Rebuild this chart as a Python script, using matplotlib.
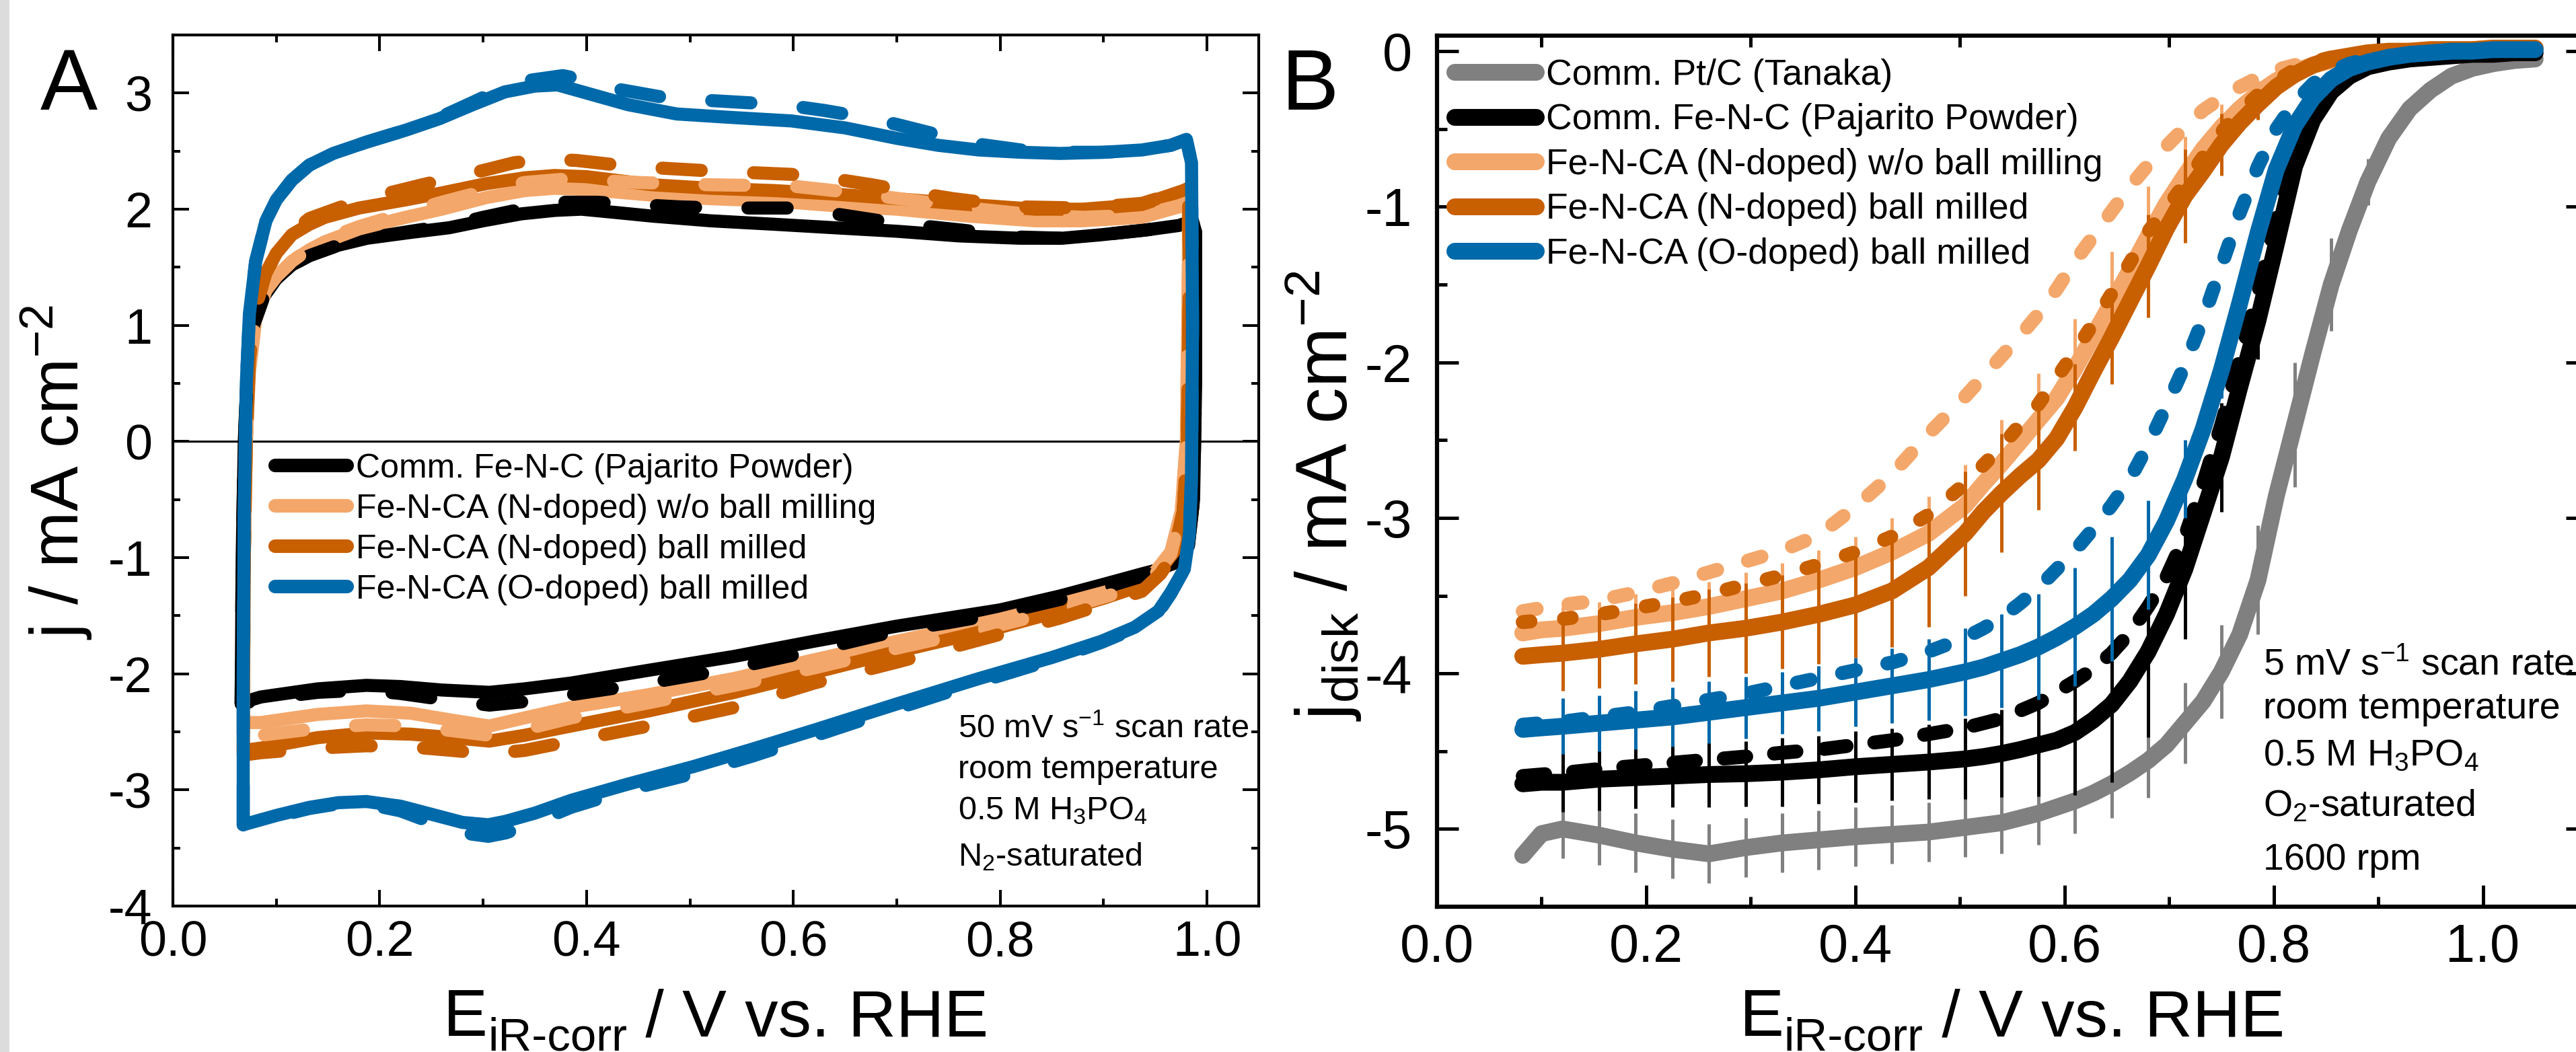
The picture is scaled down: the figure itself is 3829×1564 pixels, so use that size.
import numpy as np
import matplotlib
matplotlib.use('Agg')
import matplotlib.pyplot as plt
from matplotlib.lines import Line2D
from matplotlib.patches import Rectangle
from matplotlib.ticker import FormatStrFormatter, NullLocator

plt.rcParams['font.family'] = ['Liberation Sans', 'DejaVu Sans']
plt.rcParams['mathtext.fontset'] = 'custom'
plt.rcParams['mathtext.rm'] = 'Liberation Sans'
plt.rcParams['mathtext.it'] = 'Liberation Sans:italic'
plt.rcParams['mathtext.bf'] = 'Liberation Sans:bold'
plt.rcParams['mathtext.default'] = 'regular'
plt.rcParams['axes.unicode_minus'] = False

# ================= labels =================
LABELS_A = ['Comm. Fe-N-C (Pajarito Powder)',
            'Fe-N-CA (N-doped) w/o ball milling',
            'Fe-N-CA (N-doped) ball milled',
            'Fe-N-CA (O-doped) ball milled']
LABELS_B = ['Comm. Pt/C (Tanaka)'] + LABELS_A

NOTE_A = ['50 mV s$^{-1}$ scan rate', 'room temperature',
          '0.5 M H$_3$PO$_4$', 'N$_2$-saturated']
NOTE_B = ['5 mV s$^{-1}$ scan rate', 'room temperature',
          '0.5 M H$_3$PO$_4$', 'O$_2$-saturated', '1600 rpm']

# ================= panel A: CV loops (E / V, j / mA cm-2) =================
A_BLACK_SOLID = [
    (0.066, -2.25), (0.067, -1.00), (0.069, 0.00), (0.072, 0.60), (0.078, 1.00), (0.088, 1.25),
    (0.100, 1.40), (0.115, 1.52), (0.132, 1.60), (0.160, 1.69), (0.188, 1.75), (0.230, 1.80),
    (0.267, 1.84), (0.300, 1.90), (0.337, 1.96), (0.370, 1.99), (0.395, 2.00), (0.430, 1.97),
    (0.464, 1.94), (0.520, 1.90), (0.582, 1.87), (0.640, 1.84), (0.700, 1.81), (0.760, 1.77),
    (0.819, 1.75), (0.860, 1.75), (0.898, 1.78), (0.940, 1.82), (0.973, 1.86), (0.986, 1.90),
    (0.989, 1.80), (0.989, 0.50), (0.987, -0.50), (0.982, -0.90), (0.968, -1.05), (0.950, -1.11),
    (0.937, -1.14), (0.900, -1.23), (0.858, -1.33), (0.800, -1.45), (0.750, -1.52), (0.700, -1.59),
    (0.620, -1.72), (0.543, -1.85), (0.460, -1.97), (0.385, -2.08), (0.340, -2.13), (0.306, -2.16),
    (0.260, -2.14), (0.220, -2.11), (0.187, -2.10), (0.140, -2.13), (0.085, -2.20), (0.066, -2.25)]
A_BLACK_DASH = [
    (0.066, -2.25), (0.067, -1.00), (0.069, 0.00), (0.072, 0.60), (0.078, 1.00), (0.088, 1.25),
    (0.100, 1.40), (0.115, 1.52), (0.132, 1.60), (0.160, 1.69), (0.188, 1.75), (0.230, 1.81),
    (0.267, 1.86), (0.300, 1.93), (0.337, 2.00), (0.377, 2.06), (0.410, 2.06), (0.448, 2.04),
    (0.490, 2.02), (0.527, 2.01), (0.598, 2.01), (0.640, 1.96), (0.684, 1.90), (0.720, 1.86),
    (0.763, 1.82), (0.819, 1.76), (0.860, 1.75), (0.898, 1.78), (0.940, 1.82), (0.973, 1.86),
    (0.986, 1.90), (0.989, 1.80), (0.989, 0.50), (0.987, -0.50), (0.982, -0.90), (0.968, -1.06),
    (0.950, -1.13), (0.937, -1.16), (0.900, -1.26), (0.858, -1.36), (0.800, -1.48), (0.750, -1.56),
    (0.700, -1.63), (0.620, -1.80), (0.543, -1.95), (0.460, -2.08), (0.385, -2.18), (0.340, -2.24),
    (0.306, -2.27), (0.260, -2.22), (0.220, -2.17), (0.187, -2.14), (0.140, -2.16), (0.085, -2.22),
    (0.066, -2.26)]
A_LIGHT_SOLID = [
    (0.068, -2.42), (0.069, -1.00), (0.071, 0.00), (0.074, 0.60), (0.080, 1.05), (0.090, 1.30),
    (0.100, 1.42), (0.115, 1.55), (0.132, 1.65), (0.147, 1.72), (0.180, 1.83), (0.225, 1.93),
    (0.260, 2.00), (0.303, 2.10), (0.340, 2.16), (0.369, 2.18), (0.400, 2.17), (0.464, 2.12),
    (0.520, 2.09), (0.582, 2.07), (0.640, 2.03), (0.700, 2.00), (0.770, 1.94), (0.834, 1.90),
    (0.880, 1.90), (0.937, 1.93), (0.973, 2.02), (0.982, 2.05), (0.982, 1.50), (0.980, 0.00),
    (0.975, -0.60), (0.965, -0.95), (0.950, -1.12), (0.937, -1.21), (0.900, -1.30), (0.858, -1.40),
    (0.800, -1.53), (0.700, -1.72), (0.620, -1.88), (0.543, -2.04), (0.460, -2.18), (0.385, -2.29),
    (0.340, -2.38), (0.306, -2.45), (0.270, -2.40), (0.230, -2.34), (0.187, -2.32), (0.140, -2.35),
    (0.085, -2.42), (0.068, -2.42)]
A_LIGHT_DASH = [
    (0.068, -2.54), (0.069, -1.00), (0.071, 0.00), (0.074, 0.60), (0.080, 1.05), (0.090, 1.30),
    (0.100, 1.42), (0.115, 1.55), (0.132, 1.66), (0.147, 1.74), (0.180, 1.85), (0.225, 1.97),
    (0.260, 2.06), (0.303, 2.16), (0.340, 2.23), (0.380, 2.26), (0.450, 2.23), (0.520, 2.21),
    (0.598, 2.20), (0.660, 2.14), (0.720, 2.07), (0.780, 2.00), (0.834, 1.95), (0.880, 1.93),
    (0.937, 1.95), (0.973, 2.03), (0.982, 2.06), (0.982, 1.50), (0.980, 0.00), (0.975, -0.60),
    (0.965, -0.97), (0.950, -1.14), (0.937, -1.24), (0.900, -1.34), (0.858, -1.45), (0.800, -1.58),
    (0.700, -1.78), (0.620, -1.95), (0.543, -2.10), (0.460, -2.25), (0.385, -2.38), (0.340, -2.48),
    (0.306, -2.53), (0.270, -2.49), (0.230, -2.45), (0.187, -2.44), (0.140, -2.47), (0.085, -2.53),
    (0.068, -2.54)]
A_DARK_SOLID = [
    (0.068, -2.66), (0.069, -1.00), (0.071, 0.00), (0.074, 0.70), (0.080, 1.15), (0.090, 1.45),
    (0.100, 1.62), (0.115, 1.78), (0.132, 1.87), (0.147, 1.93), (0.180, 2.01), (0.225, 2.08),
    (0.260, 2.14), (0.303, 2.22), (0.340, 2.27), (0.369, 2.29), (0.400, 2.28), (0.464, 2.21),
    (0.520, 2.18), (0.582, 2.16), (0.640, 2.13), (0.700, 2.09), (0.770, 2.04), (0.834, 2.00),
    (0.880, 2.00), (0.937, 2.04), (0.977, 2.16), (0.982, 2.18), (0.983, 1.50), (0.981, 0.00),
    (0.977, -0.60), (0.968, -0.95), (0.955, -1.10), (0.937, -1.24), (0.900, -1.35), (0.858, -1.46),
    (0.800, -1.60), (0.700, -1.81), (0.620, -1.99), (0.543, -2.16), (0.460, -2.32), (0.385, -2.45),
    (0.340, -2.53), (0.306, -2.58), (0.270, -2.55), (0.230, -2.52), (0.187, -2.51), (0.140, -2.55),
    (0.085, -2.64), (0.068, -2.66)]
A_DARK_DASH = [
    (0.068, -2.70), (0.069, -1.00), (0.071, 0.00), (0.074, 0.70), (0.080, 1.15), (0.090, 1.45),
    (0.100, 1.62), (0.115, 1.80), (0.132, 1.92), (0.163, 2.02), (0.200, 2.12), (0.241, 2.21),
    (0.270, 2.27), (0.303, 2.34), (0.330, 2.40), (0.358, 2.43), (0.390, 2.42), (0.440, 2.37),
    (0.519, 2.33), (0.598, 2.30), (0.640, 2.26), (0.676, 2.21), (0.720, 2.14), (0.755, 2.09),
    (0.819, 2.02), (0.880, 2.01), (0.937, 2.05), (0.977, 2.16), (0.982, 2.18), (0.983, 1.50),
    (0.981, 0.00), (0.977, -0.60), (0.968, -0.97), (0.955, -1.14), (0.937, -1.29), (0.900, -1.40),
    (0.858, -1.52), (0.800, -1.66), (0.700, -1.90), (0.620, -2.08), (0.543, -2.29), (0.460, -2.45),
    (0.385, -2.58), (0.340, -2.66), (0.306, -2.69), (0.270, -2.66), (0.230, -2.63), (0.187, -2.62),
    (0.140, -2.64), (0.085, -2.68), (0.068, -2.70)]
A_BLUE_SOLID = [
    (0.068, -3.30), (0.068, -2.00), (0.069, -0.50), (0.071, 0.50), (0.074, 1.10), (0.080, 1.55),
    (0.090, 1.90), (0.100, 2.08), (0.115, 2.25), (0.132, 2.38), (0.155, 2.48), (0.188, 2.58),
    (0.225, 2.68), (0.258, 2.78), (0.290, 2.90), (0.321, 3.01), (0.350, 3.06), (0.372, 3.07),
    (0.400, 3.00), (0.440, 2.90), (0.487, 2.82), (0.540, 2.79), (0.598, 2.76), (0.650, 2.70),
    (0.700, 2.61), (0.740, 2.55), (0.779, 2.51), (0.820, 2.49), (0.858, 2.48), (0.900, 2.49),
    (0.937, 2.51), (0.965, 2.55), (0.980, 2.60), (0.985, 2.40), (0.986, 1.00), (0.985, -0.30),
    (0.983, -0.80), (0.978, -1.10), (0.965, -1.30), (0.953, -1.46), (0.930, -1.60), (0.898, -1.72),
    (0.850, -1.86), (0.780, -2.04), (0.700, -2.26), (0.622, -2.48), (0.560, -2.65), (0.503, -2.80),
    (0.440, -2.95), (0.385, -3.09), (0.350, -3.20), (0.322, -3.27), (0.305, -3.30), (0.280, -3.28),
    (0.250, -3.21), (0.220, -3.14), (0.187, -3.10), (0.160, -3.11), (0.132, -3.15), (0.100, -3.22),
    (0.068, -3.30)]
A_BLUE_DASH = [
    (0.068, -3.30), (0.068, -2.00), (0.069, -0.50), (0.071, 0.50), (0.074, 1.10), (0.080, 1.55),
    (0.090, 1.90), (0.100, 2.08), (0.115, 2.25), (0.132, 2.38), (0.155, 2.48), (0.188, 2.58),
    (0.225, 2.68), (0.258, 2.79), (0.290, 2.92), (0.321, 3.05), (0.345, 3.11), (0.377, 3.15),
    (0.400, 3.11), (0.432, 3.03), (0.470, 2.97), (0.511, 2.94), (0.550, 2.92), (0.590, 2.90),
    (0.630, 2.85), (0.669, 2.79), (0.700, 2.73), (0.740, 2.64), (0.779, 2.56), (0.820, 2.51),
    (0.858, 2.49), (0.900, 2.49), (0.937, 2.51), (0.965, 2.55), (0.980, 2.60), (0.985, 2.40),
    (0.986, 1.00), (0.985, -0.30), (0.983, -0.80), (0.978, -1.10), (0.965, -1.31), (0.953, -1.47),
    (0.930, -1.61), (0.898, -1.73), (0.850, -1.88), (0.780, -2.07), (0.700, -2.30), (0.622, -2.53),
    (0.560, -2.71), (0.503, -2.86), (0.440, -3.00), (0.385, -3.15), (0.350, -3.28), (0.322, -3.37),
    (0.305, -3.40), (0.280, -3.37), (0.250, -3.28), (0.220, -3.18), (0.187, -3.12), (0.160, -3.12),
    (0.132, -3.16), (0.100, -3.23), (0.068, -3.31)]

# ================= panel B: LSV (E / V, j_disk / mA cm-2) =================
B_X = [0.082, 0.100, 0.120, 0.155, 0.190, 0.225, 0.260, 0.295, 0.330, 0.365, 0.400,
       0.435, 0.470, 0.505, 0.5225, 0.540, 0.5575, 0.575, 0.5925, 0.610, 0.6275, 0.645,
       0.6625, 0.680, 0.6975, 0.715, 0.7325, 0.750, 0.7675, 0.785, 0.8025, 0.820, 0.8375,
       0.855, 0.8725, 0.890, 0.910, 0.930, 0.950, 0.970, 0.990, 1.010, 1.030, 1.050]
B_PT = [-5.17, -5.03, -5.00, -5.04, -5.09, -5.13, -5.16, -5.12, -5.09, -5.07, -5.05,
        -5.035, -5.02, -4.99, -4.975, -4.96, -4.93, -4.90, -4.86, -4.82, -4.77, -4.71,
        -4.64, -4.56, -4.46, -4.32, -4.18, -3.99, -3.75, -3.40, -2.86, -2.40, -1.94,
        -1.50, -1.15, -0.84, -0.56, -0.37, -0.25, -0.16, -0.11, -0.08, -0.06, -0.05]
B_FENC = [-4.71, -4.70, -4.70, -4.68, -4.67, -4.66, -4.65, -4.645, -4.635, -4.62, -4.60,
          -4.585, -4.57, -4.55, -4.535, -4.515, -4.49, -4.46, -4.43, -4.38, -4.30, -4.20,
          -4.05, -3.86, -3.62, -3.33, -2.97, -2.61, -2.16, -1.73, -1.24, -0.74, -0.44,
          -0.26, -0.16, -0.10, -0.07, -0.05, -0.04, -0.03, -0.02, -0.02, -0.01, -0.01]
B_FENC_DASH = [-4.66, -4.65, -4.64, -4.615, -4.595, -4.575, -4.555, -4.535, -4.51, -4.49, -4.46,
               -4.43, -4.39, -4.35, -4.32, -4.29, -4.24, -4.19, -4.12, -4.05, -3.97, -3.87,
               -3.74, -3.57, -3.38, -3.12, -2.78, -2.40, -1.98, -1.55, -1.08, -0.64, -0.38,
               -0.23, -0.15, -0.09, -0.07, -0.05, -0.04, -0.03, -0.02, -0.02, -0.01, -0.01]
B_NDOP = [-3.74, -3.72, -3.71, -3.68, -3.64, -3.61, -3.57, -3.52, -3.47, -3.40, -3.32,
          -3.22, -3.10, -2.92, -2.78, -2.65, -2.51, -2.37, -2.23, -2.04, -1.83, -1.62,
          -1.41, -1.19, -0.98, -0.80, -0.63, -0.49, -0.37, -0.27, -0.19, -0.13, -0.09,
          -0.06, -0.04, -0.02, -0.01, 0.00, 0.01, 0.01, 0.01, 0.02, 0.02, 0.02]
B_NDOP_DASH = [-3.60, -3.58, -3.56, -3.53, -3.48, -3.42, -3.35, -3.28, -3.21, -3.11, -2.93,
               -2.72, -2.46, -2.22, -2.09, -1.96, -1.83, -1.69, -1.53, -1.35, -1.19, -1.03,
               -0.87, -0.73, -0.61, -0.49, -0.38, -0.30, -0.23, -0.17, -0.12, -0.09, -0.07,
               -0.05, -0.03, -0.02, -0.01, 0.00, 0.01, 0.01, 0.01, 0.02, 0.02, 0.02]
B_NBM = [-3.89, -3.88, -3.87, -3.845, -3.81, -3.78, -3.74, -3.71, -3.67, -3.62, -3.56,
         -3.47, -3.32, -3.10, -2.96, -2.84, -2.73, -2.63, -2.49, -2.29, -2.06, -1.84,
         -1.61, -1.38, -1.14, -0.93, -0.77, -0.60, -0.46, -0.34, -0.23, -0.15, -0.09,
         -0.05, -0.03, -0.01, 0.00, 0.00, 0.01, 0.01, 0.01, 0.02, 0.02, 0.02]
B_NBM_DASH = [-3.67, -3.66, -3.65, -3.62, -3.58, -3.54, -3.49, -3.43, -3.37, -3.30, -3.22,
              -3.12, -2.98, -2.78, -2.66, -2.54, -2.40, -2.27, -2.10, -1.93, -1.75, -1.56,
              -1.36, -1.16, -1.01, -0.85, -0.68, -0.52, -0.39, -0.28, -0.19, -0.12, -0.07,
              -0.04, -0.02, -0.01, 0.00, 0.00, 0.01, 0.01, 0.01, 0.02, 0.02, 0.02]
B_OBM = [-4.36, -4.35, -4.34, -4.32, -4.30, -4.28, -4.25, -4.22, -4.19, -4.16, -4.12,
         -4.08, -4.04, -3.99, -3.96, -3.92, -3.88, -3.83, -3.77, -3.70, -3.62, -3.52,
         -3.40, -3.24, -3.02, -2.75, -2.43, -2.05, -1.62, -1.17, -0.76, -0.48, -0.30,
         -0.18, -0.11, -0.07, -0.04, -0.02, -0.01, 0.00, 0.00, 0.01, 0.01, 0.01]
B_OBM_DASH = [-4.33, -4.32, -4.31, -4.28, -4.25, -4.21, -4.17, -4.13, -4.08, -4.03, -3.98,
              -3.93, -3.86, -3.77, -3.71, -3.64, -3.55, -3.45, -3.33, -3.21, -3.07, -2.92,
              -2.75, -2.53, -2.28, -2.02, -1.72, -1.38, -1.04, -0.74, -0.50, -0.33, -0.21,
              -0.13, -0.08, -0.05, -0.03, -0.02, -0.01, 0.00, 0.00, 0.01, 0.01, 0.01]

# error bars (half width, mA cm-2) at these potentials
EB_X = [0.120, 0.155, 0.190, 0.225, 0.260, 0.295, 0.330, 0.365, 0.400, 0.435, 0.470, 0.505,
        0.540, 0.575, 0.610, 0.645, 0.680, 0.715, 0.750, 0.785, 0.820, 0.855, 0.890]
ERR_PT = [0.19, 0.19, 0.19, 0.19, 0.19, 0.19, 0.19, 0.19, 0.19, 0.19, 0.19, 0.19,
          0.20, 0.20, 0.21, 0.22, 0.24, 0.26, 0.30, 0.35, 0.40, 0.30, 0.15]
ERR_FENC = [0.19, 0.20, 0.20, 0.20, 0.21, 0.21, 0.22, 0.22, 0.23, 0.23, 0.24, 0.26,
            0.28, 0.33, 0.40, 0.50, 0.55, 0.45, 0.35, 0.25, 0.12, 0.06, 0.03]
ERR_NDOP = [0.14, 0.14, 0.15, 0.15, 0.16, 0.17, 0.18, 0.19, 0.20, 0.22, 0.24, 0.26,
            0.28, 0.30, 0.32, 0.33, 0.32, 0.25, 0.15, 0.08, 0.05, 0.03, 0.02]
ERR_NBM = [0.24, 0.25, 0.26, 0.27, 0.28, 0.29, 0.30, 0.32, 0.34, 0.36, 0.38, 0.40,
           0.38, 0.32, 0.28, 0.30, 0.33, 0.30, 0.20, 0.10, 0.05, 0.03, 0.02]
ERR_OBM = [0.18, 0.18, 0.19, 0.19, 0.20, 0.20, 0.20, 0.21, 0.22, 0.24, 0.26, 0.28,
           0.30, 0.34, 0.38, 0.40, 0.35, 0.25, 0.18, 0.10, 0.05, 0.03, 0.02]

# ================= colours =================
C_PT = '#808080'
C_FENC = '#000000'
C_NDOP = '#F4A76A'
C_NBM = '#C85F00'
C_OBM = '#0069AA'

W, H, DPI = 3829, 1564, 100
fig = plt.figure(figsize=(W / DPI, H / DPI), dpi=DPI)
fig.add_artist(Rectangle((0, 0), 14 / W, 1, transform=fig.transFigure,
                         color='#dcdcdc', lw=0))


def fx(px):
    return px / W


def fy(py):
    return 1 - py / H


axA = fig.add_axes([fx(257), fy(1347), 1614 / W, 1295 / H])
axB = fig.add_axes([fx(2136), fy(1348), 1710 / W, 1295 / H])

# ---------------- panel A ----------------
LW_A = 14
axA.axhline(0, color='k', lw=2.2, zorder=1)
cv_solid = [(A_BLACK_SOLID, C_FENC), (A_LIGHT_SOLID, C_NDOP), (A_DARK_SOLID, C_NBM)]
cv_dash = [(A_BLACK_DASH, C_FENC), (A_LIGHT_DASH, C_NDOP), (A_DARK_DASH, C_NBM)]
for pts, c in cv_solid:
    p = np.array(pts)
    axA.plot(p[:, 0], p[:, 1], color=c, lw=LW_A, solid_capstyle='round',
             solid_joinstyle='round')
for pts, c in cv_dash:
    p = np.array(pts)
    axA.plot(p[:, 0], p[:, 1], color=c, lw=LW_A, ls=(0, (3, 4)),
             dash_capstyle='round', dash_joinstyle='round')
p = np.array(A_BLUE_SOLID)
axA.plot(p[:, 0], p[:, 1], color=C_OBM, lw=LW_A, solid_capstyle='round',
         solid_joinstyle='round')
p = np.array(A_BLUE_DASH)
axA.plot(p[:, 0], p[:, 1], color=C_OBM, lw=LW_A, ls=(0, (3, 4)),
         dash_capstyle='round', dash_joinstyle='round')

axA.set_xlim(0, 1.05)
axA.set_ylim(-4, 3.5)
axA.set_xticks([0.0, 0.2, 0.4, 0.6, 0.8, 1.0])
axA.set_xticks([0.1, 0.3, 0.5, 0.7, 0.9], minor=True)
axA.set_yticks([-4, -3, -2, -1, 0, 1, 2, 3])
axA.set_yticks([-3.5, -2.5, -1.5, -0.5, 0.5, 1.5, 2.5], minor=True)
axA.xaxis.set_major_formatter(FormatStrFormatter('%.1f'))
axA.tick_params(which='both', direction='in', top=True, right=True, width=2.9)
axA.tick_params(which='major', length=17, labelsize=53)
axA.tick_params(which='minor', length=8)
axA.tick_params(axis='x', pad=15)
axA.tick_params(axis='y', pad=22)
for s in axA.spines.values():
    s.set_linewidth(3)

hA = [Line2D([0], [0], color=c, lw=14.5, solid_capstyle='round')
      for c in [C_FENC, C_NDOP, C_NBM, C_OBM]]
axA.legend(hA, LABELS_A, loc='upper left', bbox_to_anchor=(0.094, 0.520),
           frameon=False, fontsize=36, handlelength=2.15, handletextpad=0.25,
           labelspacing=0.28, borderpad=0, borderaxespad=0)

for txt, yb in zip(NOTE_A, [1097, 1157, 1218, 1287]):
    fig.text(fx(1424), fy(yb), txt, fontsize=35, ha='left', va='baseline')

# ---------------- panel B ----------------
LW_B = 18
LW_BD = 15
bx = np.array(B_X)
ebx = np.array(EB_X)
idx = [B_X.index(v) for v in EB_X]
series = [
    (B_PT, None, ERR_PT, C_PT, None),
    (B_FENC, B_FENC_DASH, ERR_FENC, C_FENC, (0, (1.6, 2.0))),
    (B_NDOP, B_NDOP_DASH, ERR_NDOP, C_NDOP, (0, (1.0, 2.3))),
    (B_NBM, B_NBM_DASH, ERR_NBM, C_NBM, (0, (0.55, 2.4))),
    (B_OBM, B_OBM_DASH, ERR_OBM, C_OBM, (0, (1.0, 2.3))),
]
for ys, yd, err, c, dash in series:
    ys = np.array(ys)
    axB.plot(bx, ys, color=c, lw=LW_B, solid_capstyle='round', solid_joinstyle='round')
    yc = ys[idx]
    e = np.array(err)
    axB.vlines(ebx, yc - e, yc + e, colors=c, lw=3.6)
    if yd is not None:
        axB.plot(bx, yd, color=c, lw=LW_BD, ls=dash, dash_capstyle='round',
                 dash_joinstyle='round')

axB.set_xlim(0, 1.1)
axB.set_ylim(-5.5, 0.1)
axB.set_xticks([0.0, 0.2, 0.4, 0.6, 0.8, 1.0])
axB.set_xticks([0.1, 0.3, 0.5, 0.7, 0.9], minor=True)
axB.set_yticks([-5, -4, -3, -2, -1, 0])
axB.set_yticks([-4.5, -3.5, -2.5, -1.5, -0.5], minor=True)
axB.xaxis.set_major_formatter(FormatStrFormatter('%.1f'))
axB.tick_params(which='both', direction='in', top=False, width=3.6)
axB.tick_params(which='major', length=23, labelsize=57, right=True)
axB.tick_params(which='minor', length=11, right=False)
axB.tick_params(axis='x', pad=17)
axB.tick_params(axis='y', pad=27)
for s in axB.spines.values():
    s.set_linewidth(4.5)
secB = axB.secondary_xaxis('top')
secB.set_xticks([0.1, 0.3, 0.5, 0.7, 0.9])
secB.xaxis.set_minor_locator(NullLocator())
secB.tick_params(direction='in', length=12, width=3.6, labeltop=False)
secB.spines['top'].set_visible(False)

hB = [Line2D([0], [0], color=c, lw=18, solid_capstyle='round')
      for c in [C_PT, C_FENC, C_NDOP, C_NBM, C_OBM]]
axB.legend(hB, LABELS_B, loc='upper left', bbox_to_anchor=(0.0152, 0.974),
           frameon=False, fontsize=38.5, handlelength=2.26, handletextpad=0.28,
           labelspacing=0.31, borderpad=0, borderaxespad=0)

for txt, yb in zip(NOTE_B, [1003, 1068, 1138, 1213, 1293]):
    fig.text(fx(3364), fy(yb), txt, fontsize=40, ha='left', va='baseline')

# ---------------- labels ----------------
fig.text(fx(60), fy(163), 'A', fontsize=92, ha='left', va='baseline')
fig.text(fx(1990), fy(163), 'B', fontsize=92, ha='right', va='baseline')
fig.text(fx(85), fy(702), 'j / mA cm$^{-2}$', fontsize=72, rotation=90,
         ha='center', va='center')
fig.text(fx(1968), fy(737), 'j$_{disk}$ / mA cm$^{-2}$', fontsize=77, rotation=90,
         ha='center', va='center')


def xlabel_with_sub(xc, yb, size):
    # "E" + subscript "iR-corr" + " / V vs. RHE", laid out piece by piece
    renderer = fig.canvas.get_renderer()
    pieces = [('E', size, 0), ('iR-corr', size * 0.7, -0.22 * size * DPI / 72),
              (' / V vs. RHE', size, 0)]
    arts = []
    total = 0
    for s, fs, dy in pieces:
        t = fig.text(0, 0, s, fontsize=fs, ha='left', va='baseline')
        w = t.get_window_extent(renderer).width
        arts.append((t, w, dy))
        total += w
    x = xc - total / 2
    for t, w, dy in arts:
        t.set_position((fx(x), fy(yb - dy)))
        x += w


xlabel_with_sub(1064, 1540, 71)
xlabel_with_sub(2991, 1540, 71)

fig.savefig('out.png', dpi=DPI)
